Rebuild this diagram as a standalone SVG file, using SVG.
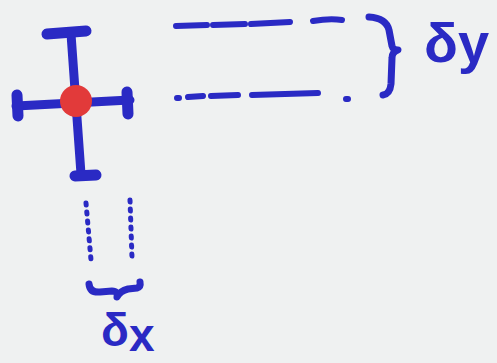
<svg xmlns="http://www.w3.org/2000/svg" width="497" height="363" viewBox="0 0 497 363">
<style>
.ink{fill:none;stroke:#2a2ac4;stroke-linecap:round;stroke-linejoin:round}
.bar{stroke-width:9}
.cap{stroke-width:11}
.dash{stroke-width:6}
.dot{stroke-width:5;stroke-dasharray:2 7}
.lbl{font-family:"Liberation Sans",Arial,sans-serif;font-weight:bold;fill:#2a2ac4}
</style>
<rect width="497" height="363" fill="#eff1f1"/>
<g id="cross">
<path class="ink bar" d="M71 34 L81 174"/>
<path class="ink bar" d="M16 106 L130 100"/>
<path class="ink cap" d="M47 34 L86 31"/>
<path class="ink cap" d="M75 176 L96 175"/>
<path class="ink cap" d="M17 95 L18 116"/>
<path class="ink cap" d="M127 92 L128 114"/>
<circle cx="76" cy="101" r="16" fill="#e23a3a"/>
</g>
<g id="connectors">
<path class="ink dash" d="M176 26 L207 25 M213 25 L245 24 M251 24 L290 22 M313 21 Q330 18 342 20"/>
<path class="ink dash" d="M177 98 L179 98 M188 97 L203 96 M211 96 L238 95 M252 95 L318 93 M346 99 L348 99"/>
<path class="ink dot" d="M86 203 L91 260"/>
<path class="ink dot" d="M130 200 L132 258"/>
</g>
<g id="brace-y">
<path class="ink" stroke-width="7" d="M369 17 Q386 18 389 30 L392 46 Q393 50 398 50 Q392 52 392 58 L391 84 Q390 94 383 95"/>
</g>
<g id="brace-x">
<path class="ink" stroke-width="7" d="M89 284 Q90 293 100 292 L112 291 Q118 291 117 297 Q120 291 128 289 L137 288 Q141 287 140 282"/>
</g>
<g id="label-y">
<text class="lbl" x="424" y="62" font-size="56">δy</text>
</g>
<g id="label-x">
<text class="lbl" x="101" y="346" font-size="46">δ<tspan dy="5">x</tspan></text>
</g>
</svg>
